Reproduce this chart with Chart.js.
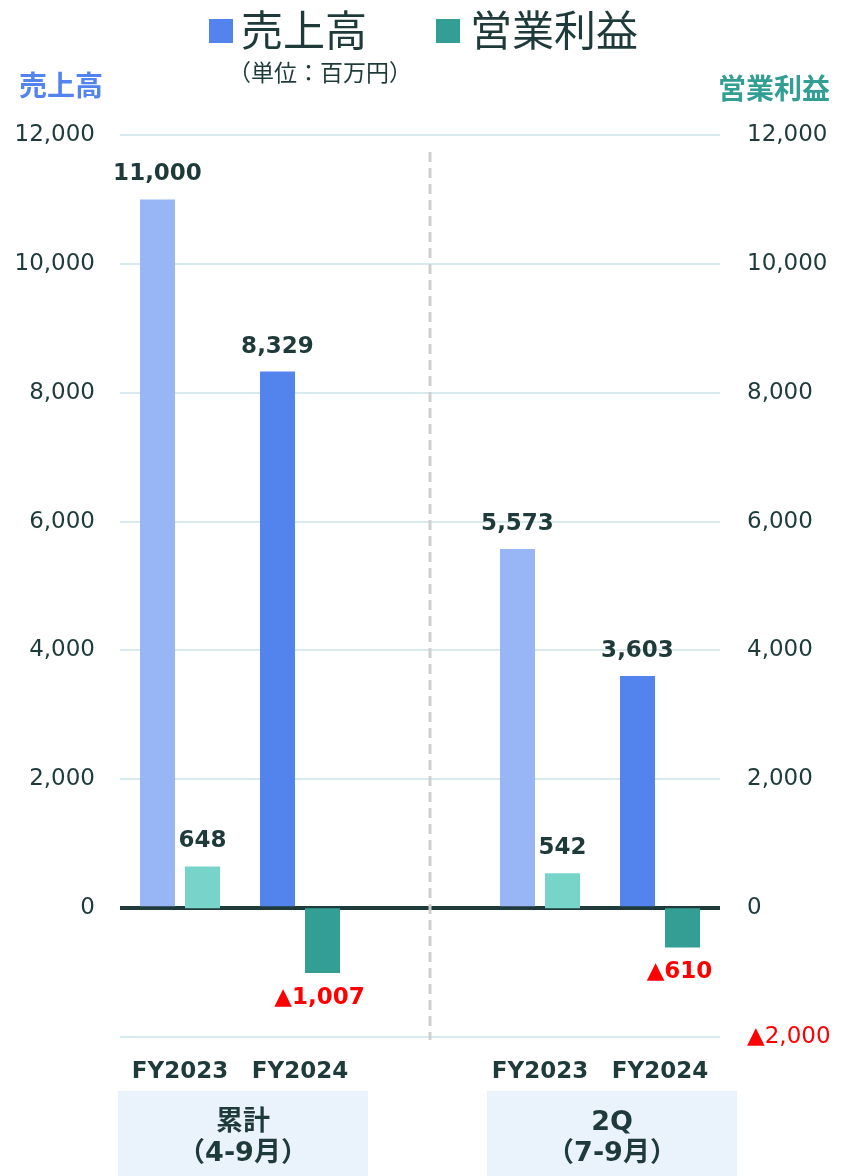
<!DOCTYPE html>
<html lang="ja">
<head>
<meta charset="utf-8">
<script src="https://cdn.jsdelivr.net/npm/chart.js@4.4.1/dist/chart.umd.min.js"></script>
<style>
  body { margin: 0; background: #fff; }
  #wrap { width: 841px; height: 1176px; }
</style>
</head>
<body>
<div id="wrap"><canvas id="salesChart" width="841" height="1176"></canvas></div>
<script>
// 売上高・営業利益（単位：百万円）
const periods = ['FY2023', 'FY2024', '', 'FY2023', 'FY2024'];
const sales = [11000, 8329, null, 5573, 3603];
const profit = [648, -1007, null, 542, -610];
const groupTitles = ['累計', '2Q'];
const groupPeriods = ['（4-9月）', '（7-9月）'];

const salesColors = ['#98b5f6', '#5384ee', null, '#98b5f6', '#5384ee'];
const profitColors = ['#77d4c8', '#339e93', null, '#77d4c8', '#339e93'];

const DARK = '#1e3a3a';
const RED = '#ff0000';
const NUM_FONT = '"DejaVu Sans", "Noto Sans CJK JP", sans-serif';
const JP_FONT = '"Noto Sans CJK JP", sans-serif';

function fmt(v) {
    const s = Math.abs(v).toLocaleString('en-US');
    return v < 0 ? '▲' + s : s;
}

// 装飾（凡例、軸タイトル、区切り線、数値ラベル、期間ボックス）
const decorations = {
    id: 'decorations',
    beforeDatasetsDraw(chart) {
        const ctx = chart.ctx;
        const x = chart.scales.x;

        // 期間ボックス
        ctx.save();
        ctx.fillStyle = '#eaf2fb';
        ctx.fillRect(x.getPixelForValue(0) - 62, 1091, 250, 85);
        ctx.fillRect(x.getPixelForValue(3) - 53, 1091, 250, 85);
        ctx.restore();
    },
    afterDatasetsDraw(chart) {
        const ctx = chart.ctx;
        const x = chart.scales.x;

        ctx.save();

        // 累計と2Qの区切り線
        const sepX = (x.getPixelForValue(1) + x.getPixelForValue(3)) / 2 + 10;
        ctx.strokeStyle = '#cfcfcf';
        ctx.lineWidth = 3;
        ctx.setLineDash([10, 6]);
        ctx.beginPath();
        ctx.moveTo(sepX, 152);
        ctx.lineTo(sepX, 1040);
        ctx.stroke();
        ctx.setLineDash([]);

        // 数値ラベル
        ctx.font = 'bold 23px ' + NUM_FONT;
        ctx.textAlign = 'center';
        chart.data.datasets.forEach((ds, di) => {
            const meta = chart.getDatasetMeta(di);
            meta.data.forEach((bar, i) => {
                const v = ds.data[i];
                if (v === null) return;
                if (v >= 0) {
                    ctx.fillStyle = DARK;
                    ctx.textBaseline = 'alphabetic';
                    ctx.fillText(fmt(v), bar.x, bar.y - 19);
                } else {
                    ctx.fillStyle = RED;
                    ctx.textBaseline = 'middle';
                    ctx.fillText(fmt(v), bar.x - 3, bar.y + 25);
                }
            });
        });

        // 横軸の年度ラベル
        ctx.fillStyle = DARK;
        ctx.textBaseline = 'middle';
        periods.forEach((p, i) => {
            if (p) ctx.fillText(p, x.getPixelForValue(i), 1072);
        });

        // 期間ボックスの文字
        ctx.font = 'bold 27px ' + NUM_FONT;
        const boxCenters = [x.getPixelForValue(0) + 63, x.getPixelForValue(3) + 72];
        boxCenters.forEach((cx, g) => {
            ctx.fillText(groupTitles[g], cx, 1123);
            ctx.fillText(groupPeriods[g], cx, 1154);
        });

        // 凡例
        ctx.textAlign = 'left';
        ctx.font = '42px ' + JP_FONT;
        ctx.fillStyle = '#5384ee';
        ctx.fillRect(209, 19, 24, 24);
        ctx.fillStyle = DARK;
        ctx.fillText('売上高', 241, 30);
        ctx.fillStyle = '#339e93';
        ctx.fillRect(436, 19, 24, 24);
        ctx.fillStyle = DARK;
        ctx.fillText('営業利益', 470, 30);

        ctx.textAlign = 'center';
        ctx.font = '23px ' + JP_FONT;
        ctx.fillText('（単位：百万円）', 320, 72);

        // 軸タイトル
        ctx.font = 'bold 28px ' + JP_FONT;
        ctx.fillStyle = '#5384ee';
        ctx.fillText('売上高', 61, 85);
        ctx.fillStyle = '#339e93';
        ctx.fillText('営業利益', 774, 88);

        ctx.restore();
    }
};

const ctx = document.getElementById('salesChart').getContext('2d');
const chartInstance = new Chart(ctx, {
    type: 'bar',
    data: {
        labels: periods,
        datasets: [{
            label: '売上高',
            data: sales,
            backgroundColor: salesColors,
            yAxisID: 'y',
            categoryPercentage: 0.75,
            barPercentage: 0.778
        }, {
            label: '営業利益',
            data: profit,
            backgroundColor: profitColors,
            yAxisID: 'y1',
            categoryPercentage: 0.75,
            barPercentage: 0.778
        }]
    },
    options: {
        responsive: false,
        animation: false,
        layout: { padding: { top: 135, bottom: 139, left: 0, right: 0 } },
        plugins: {
            legend: { display: false },
            tooltip: { enabled: false }
        },
        scales: {
            x: { display: false },
            y: {
                position: 'left',
                min: -2000,
                max: 12000,
                afterFit: (s) => { s.width = 120; },
                border: { display: false },
                grid: {
                    drawTicks: false,
                    color: (c) => c.tick && c.tick.value === 0 ? DARK : '#d9eaee',
                    lineWidth: (c) => c.tick && c.tick.value === 0 ? 4 : 2
                },
                ticks: {
                    stepSize: 2000,
                    padding: 25,
                    color: DARK,
                    font: { family: NUM_FONT, size: 23 },
                    callback: (v) => v < 0 ? '' : v.toLocaleString('en-US')
                }
            },
            y1: {
                position: 'right',
                min: -2000,
                max: 12000,
                afterFit: (s) => { s.width = 121; },
                border: { display: false },
                grid: { display: false, drawTicks: false },
                ticks: {
                    stepSize: 2000,
                    padding: 27,
                    color: (c) => c.tick.value < 0 ? RED : DARK,
                    font: { family: NUM_FONT, size: 23 },
                    callback: (v) => fmt(v)
                }
            }
        }
    },
    plugins: [decorations]
});
</script>
</body>
</html>
